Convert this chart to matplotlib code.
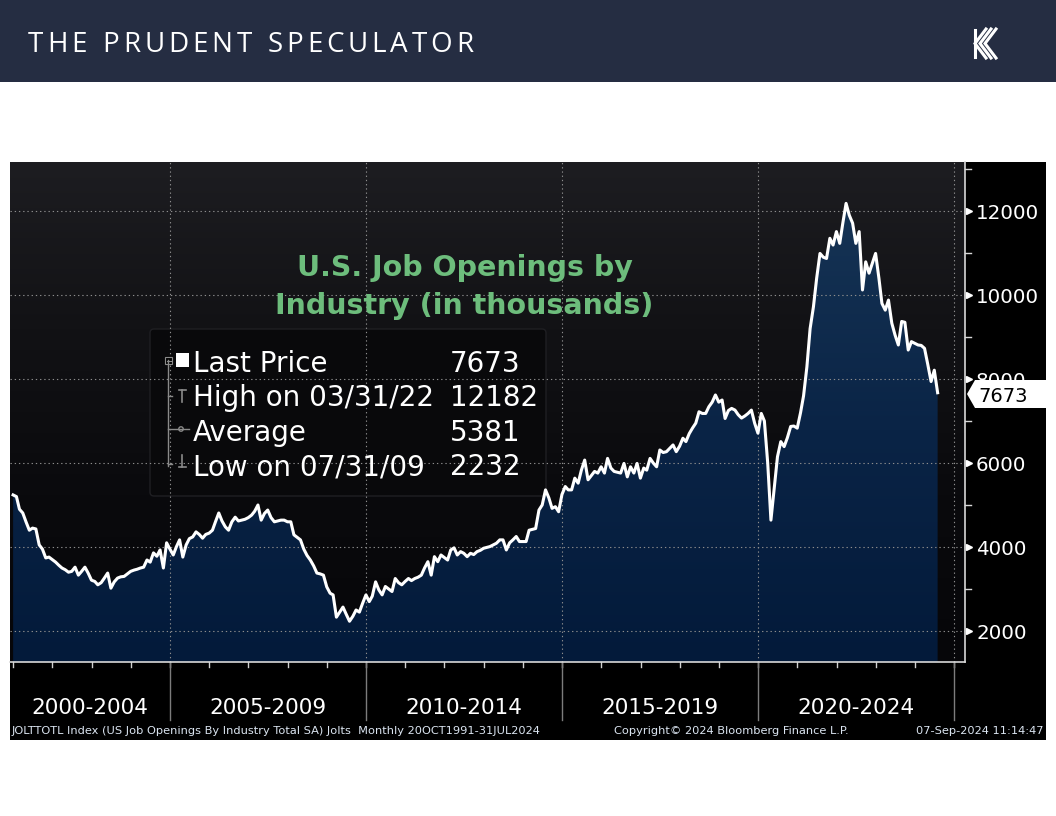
import datetime as dt
import numpy as np
import pandas as pd
import matplotlib
matplotlib.use("Agg")
import matplotlib.pyplot as plt
import matplotlib.dates as mdates
from matplotlib.colors import LinearSegmentedColormap
from matplotlib.patches import Rectangle, Polygon, FancyBboxPatch, Circle
from matplotlib.transforms import Affine2D, blended_transform_factory
from matplotlib.lines import Line2D

# monthly JOLTS total job openings (thousands), Dec 2000 .. Jul 2024
dec_2000 = [5240]
jobs_2001_2004 = [
    5200, 4900, 4810, 4600, 4400, 4450, 4430, 4050, 3950, 3740, 3760, 3700,
    3640, 3570, 3500, 3460, 3400, 3420, 3520, 3330, 3420, 3520, 3380, 3210,
    3180, 3100, 3150, 3260, 3380, 3020, 3170, 3260, 3290, 3300, 3360, 3420,
    3450, 3470, 3500, 3520, 3690, 3640, 3860, 3780, 3930, 3500, 4100, 3950,
]
jobs_2005_2009 = [
    3810, 4000, 4170, 3760, 4050, 4200, 4240, 4360, 4300, 4210, 4300, 4330,
    4400, 4600, 4810, 4620, 4480, 4400, 4600, 4710, 4620, 4640, 4660, 4700,
    4760, 4850, 5000, 4640, 4800, 4880, 4700, 4600, 4620, 4640, 4640, 4600,
    4600, 4290, 4230, 4170, 3950, 3800, 3690, 3550, 3380, 3360, 3330, 3050,
    2900, 2860, 2330, 2450, 2570, 2400, 2232, 2350, 2500, 2450, 2660, 2860,
]
jobs_2010_2014 = [
    2700, 2830, 3170, 2980, 2860, 3060, 3000, 2940, 3250, 3150, 3100, 3180,
    3250, 3200, 3250, 3280, 3330, 3500, 3650, 3330, 3770, 3650, 3810, 3750,
    3690, 3930, 3980, 3810, 3890, 3850, 3770, 3850, 3820, 3890, 3920, 3970,
    3990, 4010, 4050, 4090, 4170, 4170, 3930, 4100, 4170, 4250, 4130, 4130,
    4130, 4400, 4420, 4440, 4880, 5000, 5360, 5170, 4920, 4960, 4840, 5250,
]
jobs_2015_2019 = [
    5440, 5360, 5360, 5640, 5520, 5830, 6070, 5600, 5700, 5800, 5760, 5910,
    5760, 6110, 5880, 5800, 5780, 5760, 5990, 5670, 5910, 5760, 5990, 5640,
    5880, 5830, 6110, 6000, 5910, 6310, 6250, 6270, 6350, 6430, 6270, 6400,
    6590, 6510, 6700, 6830, 6950, 7220, 7180, 7180, 7340, 7450, 7620, 7450,
    7500, 7060, 7250, 7300, 7260, 7150, 7070, 7120, 7180, 7260, 6950, 6710,
]
jobs_2020_2024 = [
    7180, 7000, 6000, 4640, 5400, 6150, 6510, 6390, 6600, 6870, 6880, 6830,
    7200, 7600, 8290, 9200, 9720, 10400, 10990, 10900, 10870, 11350, 11190, 11510,
    11230, 11700, 12182, 11900, 11710, 11230, 11510, 10120, 10790, 10520, 10750, 10990,
    10400, 9800, 9640, 9880, 9330, 9050, 8810, 9370, 9350, 8690, 8890, 8850,
    8810, 8800, 8730, 8350, 7940, 8210, 7673,
]

period_labels = ["2000-2004", "2005-2009", "2010-2014", "2015-2019", "2020-2024"]
period_starts = [2000, 2005, 2010, 2015, 2020, 2025]
yticks = [2000, 4000, 6000, 8000, 10000, 12000]
legend_labels = ["Last Price", "High on 03/31/22", "Average", "Low on 07/31/09"]
legend_values = ["7673", "12182", "5381", "2232"]
last_price = "7673"

openings = dec_2000 + jobs_2001_2004 + jobs_2005_2009 + jobs_2010_2014 + jobs_2015_2019 + jobs_2020_2024
dates = pd.date_range("2000-12-31", periods=len(openings), freq="ME")
xnum = mdates.date2num(dates)

W, H = 1056, 816
fig = plt.figure(figsize=(W / 100, H / 100), dpi=100)
fig.patch.set_facecolor("white")
# pixel coordinates measured from the top-left corner
px = Affine2D().scale(1 / W, -1 / H).translate(0, 1) + fig.transFigure

# header band + black chart panel
fig.add_artist(Rectangle((0, 0), W, 82, transform=px, fc="#252d42", ec="none", zorder=-5))
fig.add_artist(Rectangle((10, 162), 1036, 578, transform=px, fc="black", ec="none", zorder=-5))

ax = fig.add_axes([10 / W, 1 - 662 / H, 955 / W, 500 / H])
Y_MIN, Y_MAX = 1262, 13167
x_left = mdates.date2num(dt.datetime(2000, 12, 2))
x_right = mdates.date2num(dt.datetime(2025, 4, 12))

grad = np.linspace(0, 1, 256).reshape(-1, 1)
bg_cmap = LinearSegmentedColormap.from_list("bg", ["#060609", "#0a0a0d", "#121215", "#1d1d21"])
ax.imshow(grad, cmap=bg_cmap, aspect="auto", origin="lower", extent=[0, 1, 0, 1],
          transform=ax.transAxes, zorder=0)

fill = ax.fill_between(xnum, openings, Y_MIN, facecolor="none", edgecolor="none")
fill_cmap = LinearSegmentedColormap.from_list("fill", ["#031a3a", "#0a2446", "#163455"])
im = ax.imshow(grad, cmap=fill_cmap, aspect="auto", origin="lower",
               extent=[xnum[0], xnum[-1], Y_MIN, 12300], zorder=1)
im.set_clip_path(fill.get_paths()[0], transform=ax.transData)

# legend box sits under the grid
ax.add_patch(FancyBboxPatch((150, 329), 396, 167, boxstyle="round,pad=0,rounding_size=4",
                            transform=px, fc="#09090b", ec="#1f1f23", lw=1, zorder=1.5))

grid_kw = dict(color="#8d8d8d", lw=0.8, ls=(0, (1.2, 2.6)), zorder=2)
for v in yticks:
    ax.axhline(v, **grid_kw)
for yr in period_starts[1:]:
    ax.axvline(mdates.date2num(dt.datetime(yr, 1, 1)), **grid_kw)

ax.plot(xnum, openings, color="white", lw=2.2, zorder=3, solid_joinstyle="round")

ax.set_xlim(x_left, x_right)
ax.set_ylim(Y_MIN, Y_MAX)

for s in ["top", "left"]:
    ax.spines[s].set_visible(False)
for s in ["bottom", "right"]:
    ax.spines[s].set_color("#d8d8d8")
    ax.spines[s].set_linewidth(1.2)

ax.set_xticks([])
ax.yaxis.tick_right()
ax.set_yticks(yticks)
ax.set_yticklabels([str(v) for v in yticks])
ax.tick_params(axis="y", length=0, pad=8, labelsize=14.3, labelcolor="white")

# right axis markers
ytr = blended_transform_factory(px, ax.transData)
ax.plot([968.5] * len(yticks), yticks, ls="none", marker=">", ms=5, color="white",
        transform=ytr, clip_on=False, zorder=5)
for v in range(3000, 14000, 2000):
    ax.plot([965, 971], [v, v], color="#d8d8d8", lw=1, transform=ytr, clip_on=False)

# x band: year ticks, period separators and labels
xtr = blended_transform_factory(ax.transData, px)
for yr in range(2001, 2026):
    xv = mdates.date2num(dt.datetime(yr, 1, 1))
    ax.plot([xv, xv], [662, 667], color="#d0d0d0", lw=1, transform=xtr, clip_on=False)
for yr in period_starts[1:]:
    xv = mdates.date2num(dt.datetime(yr, 1, 1))
    ax.plot([xv, xv], [662, 720], color="#7c7c7c", lw=1, transform=xtr, clip_on=False)
edges = [x_left] + [mdates.date2num(dt.datetime(yr, 1, 1)) for yr in period_starts[1:]]
for i, lab in enumerate(period_labels):
    ax.text((edges[i] + edges[i + 1]) / 2, 714, lab, transform=xtr, ha="center", va="baseline",
            fontsize=15.5, color="white")

# chart title
title_kw = dict(transform=px, ha="center", va="baseline", fontsize=20.5, fontweight="bold",
                color="#6dbd7c", zorder=4)
ax.text(465, 276, "U.S. Job Openings by", **title_kw)
ax.text(464, 314, "Industry (in thousands)", **title_kw)

# legend rows
gray = "#8a8a8a"
baselines = [372, 406, 441, 475]
for lab, val, yb in zip(legend_labels, legend_values, baselines):
    fig.text(193, yb, lab, transform=px, fontsize=20, color="white", va="baseline")
    fig.text(450, yb, val, transform=px, fontsize=20, color="white", va="baseline")
fig.add_artist(Line2D([168, 168], [360, 466], transform=px, color=gray, lw=1))
fig.add_artist(Rectangle((165, 357), 7, 7, transform=px, fc="black", ec=gray, lw=0.8))
fig.add_artist(Line2D([166.5, 170.5], [360.5, 360.5], transform=px, color=gray, lw=0.8))
fig.add_artist(Rectangle((176, 353), 13, 14, transform=px, fc="white", ec="none"))
fig.add_artist(Line2D([168, 172], [396, 396], transform=px, color=gray, lw=1))
fig.add_artist(Line2D([178.5, 185.5], [390, 390], transform=px, color=gray, lw=1.2))
fig.add_artist(Line2D([182, 182], [390, 402], transform=px, color=gray, lw=1.2))
fig.add_artist(Line2D([168, 189], [429, 429], transform=px, color=gray, lw=1))
fig.add_artist(Circle((181, 429), 2.2, transform=px, fc="black", ec=gray, lw=1))
fig.add_artist(Line2D([168, 172], [464, 464], transform=px, color=gray, lw=1))
fig.add_artist(Line2D([182, 182], [455, 467], transform=px, color=gray, lw=1.2))
fig.add_artist(Line2D([178.5, 185.5], [467, 467], transform=px, color=gray, lw=1.2))

# last price tag over the right axis
fig.add_artist(Polygon([(967, 394), (975, 380), (1046, 380), (1046, 408), (975, 408)],
                       transform=px, fc="white", ec="none", zorder=5))
fig.text(978, 402, last_price, transform=px, fontsize=14, color="black", va="baseline", zorder=6)

# footer
foot_kw = dict(transform=px, fontsize=8.2, color="#dbe5f1", va="baseline")
fig.text(12, 734, "JOLTTOTL Index (US Job Openings By Industry Total SA) Jolts  Monthly 20OCT1991-31JUL2024",
         **foot_kw)
fig.text(731, 734, "Copyright\u00a9 2024 Bloomberg Finance L.P.", ha="center", **foot_kw)
fig.text(1044, 734, "07-Sep-2024 11:14:47", ha="right", **foot_kw)

# header title, spaced out letter by letter
header = "THE PRUDENT SPECULATOR"
renderer = fig.canvas.get_renderer()
letters = []
for ch in header:
    if ch == " ":
        letters.append((ch, None, 0))
        continue
    t = fig.text(0, 52, ch, transform=px, fontsize=20, family="Open Sans",
                 color="white", va="baseline")
    letters.append((ch, t, t.get_window_extent(renderer).width))
space_w = 8
track = (445 - sum(w for _, _, w in letters) - space_w * header.count(" ")) / (len(header) - 1)
xpos = 28
for ch, t, w in letters:
    if t is None:
        xpos += space_w + track
        continue
    t.set_x(xpos)
    xpos += w + track

# logo: three stacked chevrons
for i in range(3):
    dx = 5 * i
    fig.add_artist(Line2D([986 + dx, 975 + dx, 986 + dx], [29, 43.5, 58], transform=px,
                          color="white", lw=2.2, solid_joinstyle="miter"))
fig.add_artist(Line2D([975, 975], [30, 57], transform=px, color="white", lw=2.2))

fig.savefig("out.png", dpi=100)
